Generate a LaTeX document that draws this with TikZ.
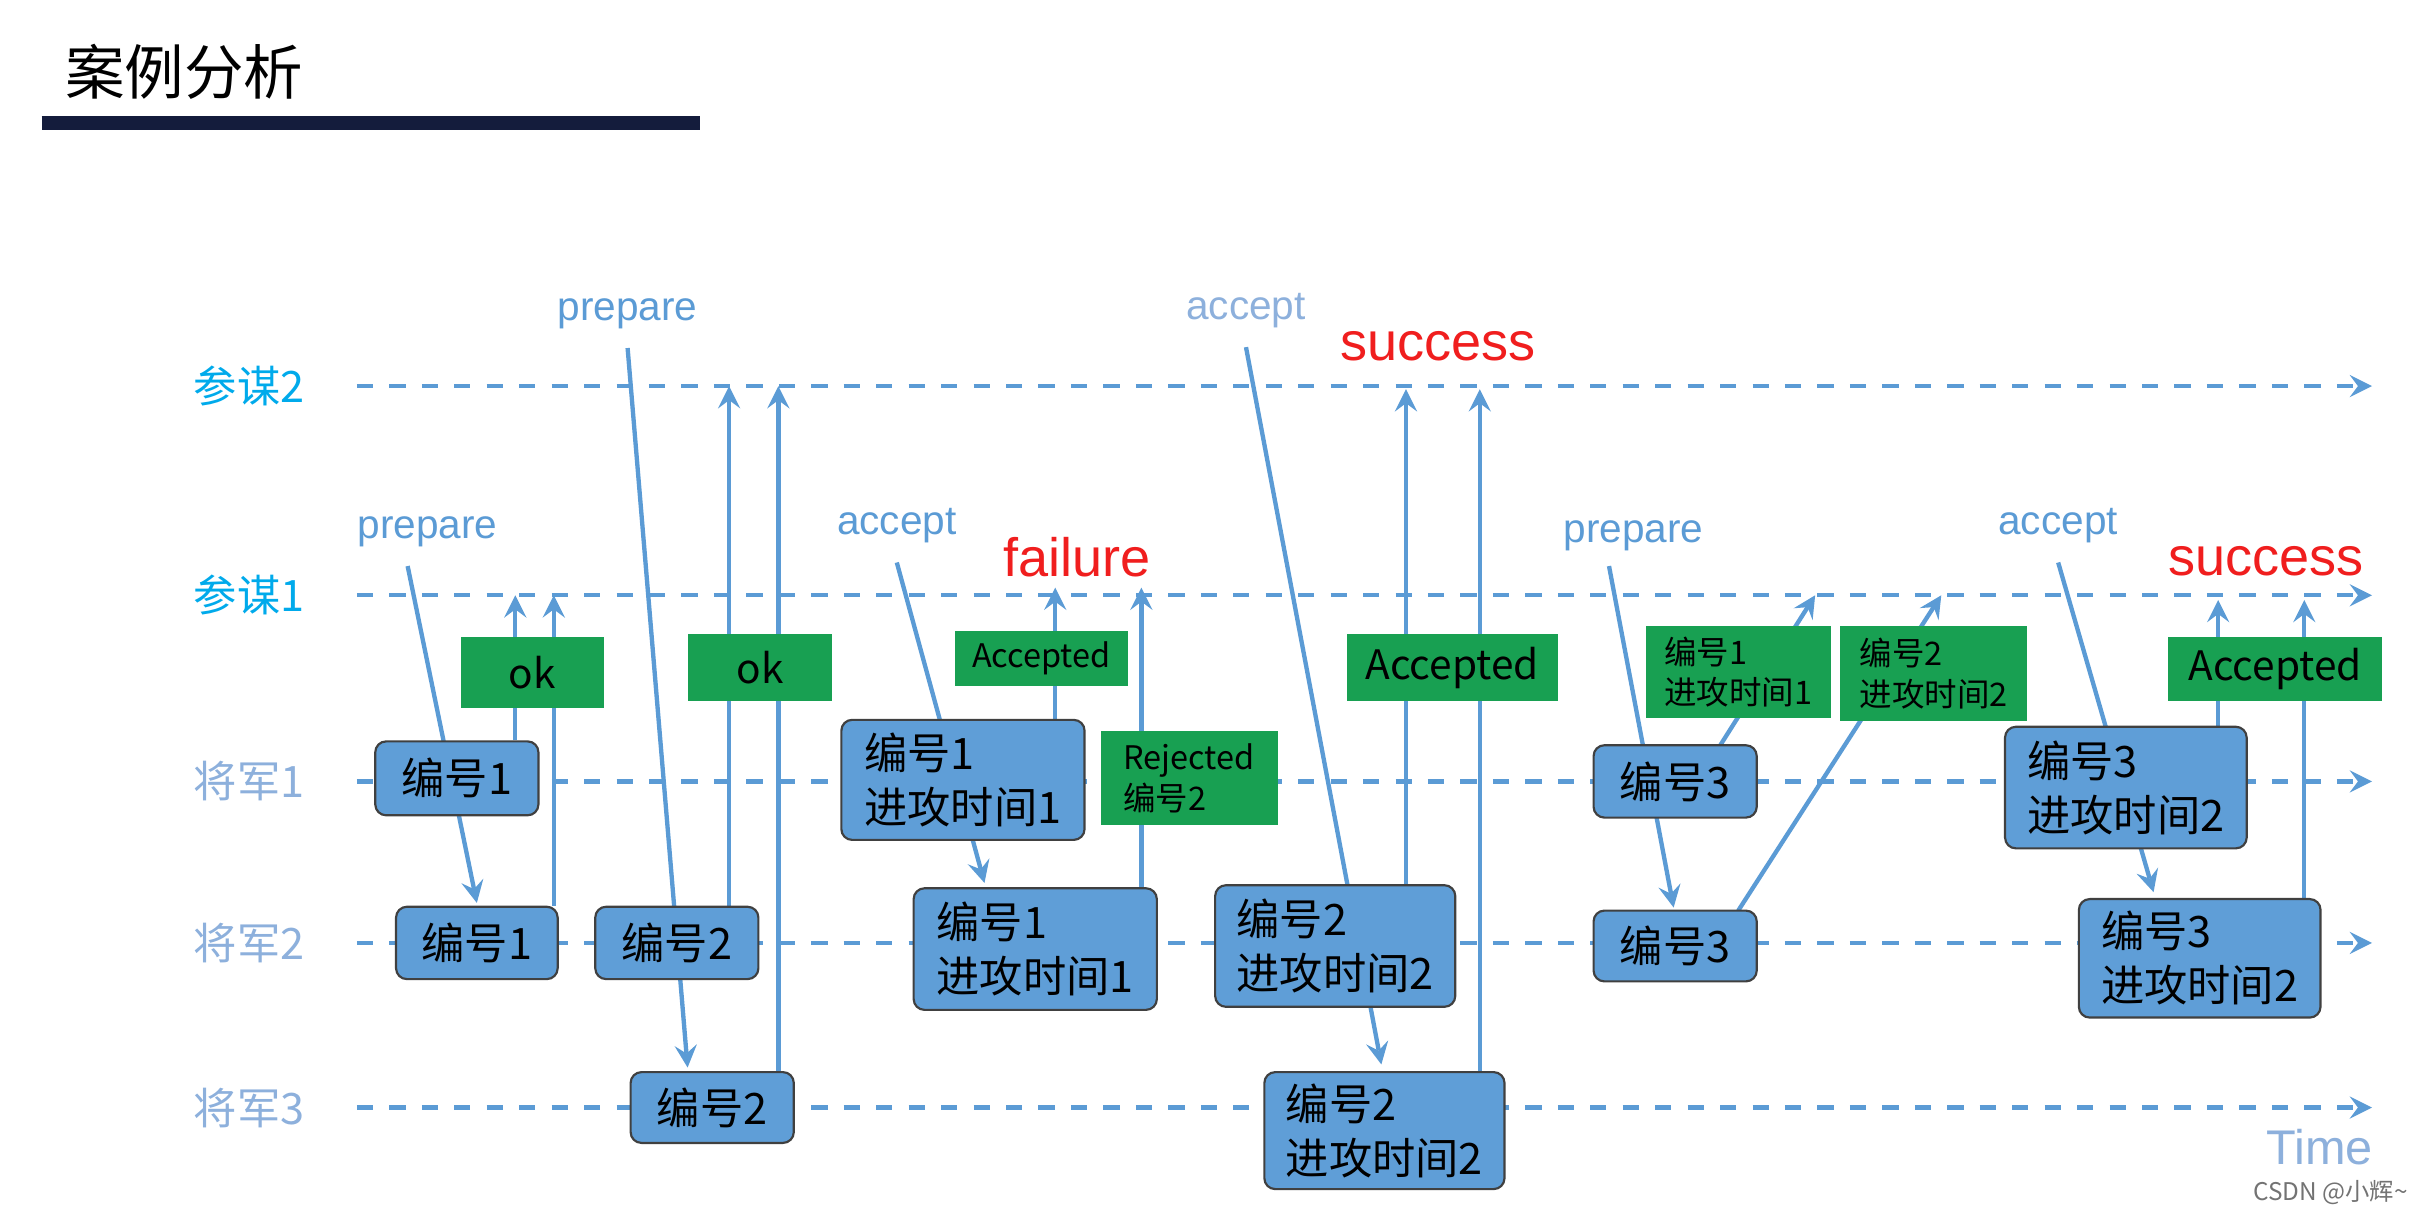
\documentclass[tikz,border=0pt]{standalone}
\usepackage{fontspec}
\setmainfont{Liberation Sans}
\newfontfamily\cjk{Noto Sans CJK SC}
\usetikzlibrary{arrows,positioning,backgrounds}
\definecolor{lineblue}{RGB}{91,155,213}
\definecolor{boxblue}{RGB}{95,158,215}
\definecolor{boxgreen}{RGB}{24,160,82}
\definecolor{rolecyan}{RGB}{0,170,235}
\definecolor{rolegray}{RGB}{141,176,220}
\definecolor{failred}{RGB}{240,30,30}
\definecolor{titlenavy}{RGB}{20,28,60}

\begin{document}
\begin{tikzpicture}[x=0.01cm, y=-0.01cm,
    timeline/.style={draw=lineblue, dashed, line width=0.8pt, -stealth},
    msg/.style={draw=lineblue, line width=0.8pt, -stealth},
    role/.style={font=\cjk\fontsize{8}{10}\selectfont, anchor=center},
    proposal/.style={rectangle, rounded corners=2pt, draw=black!75, fill=boxblue, inner sep=2pt,
        align=left, font=\cjk\fontsize{8}{10}\selectfont, anchor=center},
    reply/.style={rectangle, fill=boxgreen, inner sep=1pt, align=left,
        font=\cjk\fontsize{7.5}{9}\selectfont, anchor=center},
    small reply/.style={reply, font=\cjk\fontsize{6}{7.5}\selectfont},
    phase/.style={text=lineblue, font=\fontsize{7.5}{9}\selectfont},
    result/.style={text=failred, font=\fontsize{10}{12}\selectfont}
]
    \useasboundingbox (0,0) rectangle (1568,786);

    % Title
    \node[anchor=west, font=\cjk\fontsize{11}{13}\selectfont] (title) at (30,47) {案例分析};
    \draw[titlenavy, line width=2.5pt] (27,80) -- (455,80);

    % Roles and time lines
    \node[role, text=rolecyan] (c2) at (162,251) {参谋2};
    \node[role, text=rolecyan] (c1) at (162,387) {参谋1};
    \node[role, text=rolegray] (g1) at (162,508) {将军1};
    \node[role, text=rolegray] (g2) at (162,613) {将军2};
    \node[role, text=rolegray] (g3) at (162,720) {将军3};
    \foreach \r/\y in {c2/251, c1/387, g1/508, g2/613, g3/720} {
        \coordinate (\r s) at (232,\y);
        \coordinate (\r e) at (1542,\y);
        \draw[timeline] (\r s) -- (\r e);
    }
    \node[text=rolegray, font=\fontsize{9}{11}\selectfont] (time) at (1508,746) {Time};

    % Proposals (blue boxes)
    \node[proposal, minimum width=1.06cm, minimum height=0.48cm] (a1) at (297,506) {编号1};
    \node[proposal, minimum width=1.58cm, minimum height=0.78cm] (a2) at (626,507) {编号1\\进攻时间1};
    \node[proposal, minimum width=1.06cm, minimum height=0.47cm] (a3) at (1089,508) {编号3};
    \node[proposal, minimum width=1.57cm, minimum height=0.79cm] (a4) at (1382,512) {编号3\\进攻时间2};
    \node[proposal, minimum width=1.05cm, minimum height=0.47cm] (b1) at (310,613) {编号1};
    \node[proposal, minimum width=1.06cm, minimum height=0.47cm] (b2) at (440,613) {编号2};
    \node[proposal, minimum width=1.58cm, minimum height=0.79cm] (b3) at (673,617) {编号1\\进攻时间1};
    \node[proposal, minimum width=1.56cm, minimum height=0.79cm] (b4) at (868,615) {编号2\\进攻时间2};
    \node[proposal, minimum width=1.06cm, minimum height=0.46cm] (b5) at (1089,615) {编号3};
    \node[proposal, minimum width=1.57cm, minimum height=0.77cm] (b6) at (1430,623) {编号3\\进攻时间2};
    \node[proposal, minimum width=1.06cm, minimum height=0.46cm] (d1) at (463,720) {编号2};
    \node[proposal, minimum width=1.56cm, minimum height=0.76cm] (d2) at (900,735) {编号2\\进攻时间2};

    % Replies (green boxes)
    \node[reply, minimum width=0.93cm, minimum height=0.46cm] (r1) at (346,437) {ok};
    \node[reply, minimum width=0.94cm, minimum height=0.43cm] (r2) at (494,434) {ok};
    \node[small reply, minimum width=1.12cm, minimum height=0.36cm] (r3) at (677,428) {Accepted};
    \node[small reply, minimum width=1.15cm, minimum height=0.61cm] (r4) at (773,506) {Rejected\\编号2};
    \node[reply, minimum width=1.37cm, minimum height=0.44cm] (r5) at (944,434) {Accepted};
    \node[small reply, minimum width=1.2cm, minimum height=0.6cm] (r6) at (1130,437) {编号1\\进攻时间1};
    \node[small reply, minimum width=1.21cm, minimum height=0.62cm] (r7) at (1257,438) {编号2\\进攻时间2};
    \node[reply, minimum width=1.39cm, minimum height=0.42cm] (r8) at (1479,435) {Accepted};

    % Phase labels and results
    \node[phase] (p1) at (278,346) {prepare};
    \node[phase] (p2) at (408,204) {prepare};
    \node[phase] (p3) at (583,342) {accept};
    \node[phase, text=rolegray] (p4) at (810,202) {accept};
    \node[phase] (p5) at (1062,348) {prepare};
    \node[phase] (p6) at (1338,342) {accept};
    \node[result] (s1) at (700,362) {failure};
    \node[result] (s2) at (935,225) {success};
    \node[result] (s3) at (1473,365) {success};

    % Messages (behind the boxes)
    \begin{scope}[on background layer]
        \coordinate (m1) at (335,387);  \coordinate (m2) at (360,387);
        \coordinate (m3) at (474,251);  \coordinate (m4) at (506,251);
        \coordinate (m5) at (686,382);  \coordinate (m6) at (742,382);
        \coordinate (m7) at (914,253);  \coordinate (m8) at (962,253);
        \coordinate (m9) at (1180,387); \coordinate (m10) at (1262,387);
        \coordinate (m11) at (1442,390); \coordinate (m12) at (1498,390);
        \coordinate (q1) at (265,368);  \coordinate (t1) at (310,587);
        \coordinate (t2) at (447,694);  \coordinate (t3) at (640,574);
        \coordinate (t4) at (898,692);  \coordinate (q5) at (1046,368);
        \coordinate (t5) at (1088,590); \coordinate (t6) at (1400,580);
        \coordinate (n9) at (1118,485); \coordinate (n10) at (1130,592);
        \draw[msg] (q1) -- (t1);
        \draw[msg] (p2.south) -- (t2);
        \draw[msg] (p3.south) -- (t3);
        \draw[msg] (p4.south) -- (t4);
        \draw[msg] (q5) -- (t5);
        \draw[msg] (p6.south) -- (t6);
        \draw[msg] (a1.north -| m1) -- (m1);
        \draw[msg] (b1.north -| m2) -- (m2);
        \draw[msg] (b2.north -| m3) -- (m3);
        \draw[msg] (d1.north -| m4) -- (m4);
        \draw[msg] (a2.north -| m5) -- (m5);
        \draw[msg] (b3.north -| m6) -- (m6);
        \draw[msg] (b4.north -| m7) -- (m7);
        \draw[msg] (d2.north -| m8) -- (m8);
        \draw[msg] (n9) -- (m9);
        \draw[msg] (n10) -- (m10);
        \draw[msg] (a4.north -| m11) -- (m11);
        \draw[msg] (b6.north -| m12) -- (m12);
    \end{scope}

    % Watermark
    \node[text=black!55, font=\cjk\fontsize{4.5}{5}\selectfont] (mark) at (1515,775) {CSDN @小辉\textasciitilde};
\end{tikzpicture}
\end{document}
